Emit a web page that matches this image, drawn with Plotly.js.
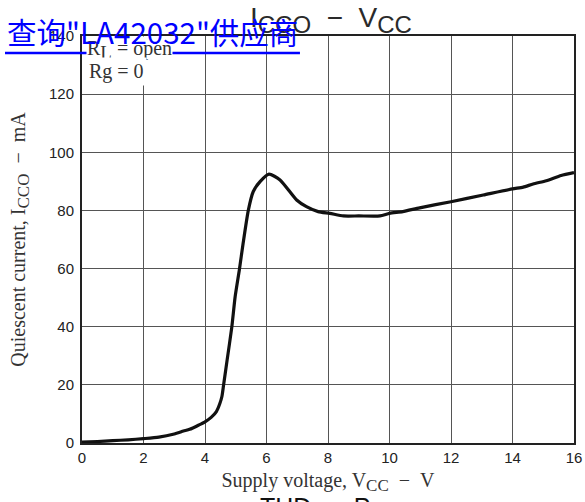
<!DOCTYPE html>
<html>
<head>
<meta charset="utf-8">
<script src="https://cdn.plot.ly/plotly-3.0.1.min.js"></script>
<style>html,body{margin:0;padding:0;background:#fff;}#chart{width:585px;height:502px;}</style>
</head>
<body>
<div id="chart"></div>
<script>
// Supply voltage V_CC (V)
const vcc = [0, 0.5, 1, 1.5, 2, 2.5, 3, 3.3, 3.5, 3.8, 4, 4.2, 4.37, 4.48, 4.55, 4.6, 4.72, 4.87, 4.98, 5.12, 5.24, 5.41, 5.57, 5.79, 6.08, 6.44, 6.98, 7.3, 7.68, 8.06, 8.5, 9.0, 9.69, 10, 10.43, 10.98, 12, 13.05, 14, 14.35, 14.67, 15.1, 15.58, 16];
// Quiescent current I_CCO (mA)
const icco = [0.3, 0.5, 0.8, 1.1, 1.5, 2.0, 3.1, 4.1, 4.7, 6.2, 7.3, 8.8, 10.8, 13.5, 16, 19.6, 28.6, 39.7, 50.3, 59.8, 68.7, 80.1, 86.5, 89.9, 92.5, 90.5, 83.6, 81.3, 79.6, 79.0, 78.1, 78.1, 78.1, 79.0, 79.6, 80.9, 83.0, 85.3, 87.4, 88.0, 89.1, 90.2, 92.0, 93.0];
const xTicks = [0, 2, 4, 6, 8, 10, 12, 14, 16];
const yTicks = [0, 20, 40, 60, 80, 100, 120, 140];

const serif = '"Liberation Serif", "Times New Roman", serif';
const sans = '"Liberation Sans", Arial, sans-serif';
const sp = '\u00a0\u00a0';

const trace = {
  x: vcc, y: icco, type: 'scatter', mode: 'lines',
  line: {color: '#111', width: 3.2, shape: 'spline', smoothing: 0.6},
  hoverinfo: 'skip'
};

const layout = {
  width: 585, height: 502,
  margin: {l: 82, r: 11, t: 36, b: 59},
  paper_bgcolor: '#fff', plot_bgcolor: '#fff',
  showlegend: false,
  title: {
    text: 'I<sub><span style="font-size:24px">CCO</span></sub>' + sp + '−' + sp + 'V<sub><span style="font-size:24px">CC</span></sub>',
    font: {family: sans, size: 28, color: '#2a2a2a'},
    x: 0.506, xref: 'paper', xanchor: 'center',
    y: 0.965, yref: 'container', yanchor: 'middle'
  },
  xaxis: {
    range: [0, 16], tickvals: xTicks, ticktext: xTicks.map(String),
    showgrid: true, gridcolor: '#555', gridwidth: 1,
    showline: true, linecolor: '#222', linewidth: 2, mirror: true,
    ticks: '', zeroline: false,
    tickfont: {family: sans, size: 15, color: '#222'},
    title: {text: 'Supply voltage, V<sub><span style="font-size:17px">CC</span></sub>' + sp + '−' + sp + 'V', font: {family: serif, size: 20, color: '#333'}, standoff: 8}
  },
  yaxis: {
    range: [0, 140], tickvals: yTicks, ticktext: yTicks.map(String),
    showgrid: true, gridcolor: '#555', gridwidth: 1,
    showline: true, linecolor: '#222', linewidth: 2, mirror: true,
    ticks: '', zeroline: false, ticklabelstandoff: 3,
    tickfont: {family: sans, size: 15, color: '#222'},
    title: {text: 'Quiescent current, I<sub><span style="font-size:17px">CCO</span></sub>' + sp + '−' + sp + 'mA', font: {family: serif, size: 20, color: '#333'}, standoff: 18}
  },
  annotations: [
    {
      text: 'R<sub><span style="font-size:19px">L</span></sub> = open', xref: 'paper', yref: 'paper',
      x: 0, y: 0.9656, xanchor: 'left', yanchor: 'middle', xshift: 4,
      align: 'left', showarrow: false, bgcolor: '#fff', borderpad: 0,
      font: {family: serif, size: 20, color: '#333'}
    },
    {
      text: 'Rg = 0', xref: 'paper', yref: 'paper',
      x: 0, y: 0.914, xanchor: 'left', yanchor: 'middle', xshift: 4,
      align: 'left', showarrow: false, bgcolor: '#fff', borderpad: 2,
      font: {family: serif, size: 20, color: '#333'}
    },
    {
      text: 'THD' + sp + '−' + sp + 'P<sub>o</sub>', xref: 'paper', yref: 'paper',
      x: 0.3577, y: -0.118, xanchor: 'left', yanchor: 'top',
      showarrow: false, font: {family: sans, size: 25, color: '#111'}
    },
    {
      text: '查询"LA42032"供应商', xref: 'paper', yref: 'paper',
      x: -0.1565, y: 1.0123, xanchor: 'left', yanchor: 'middle',
      showarrow: false, font: {family: '"Noto Sans CJK SC", sans-serif', size: 29.5, color: '#0000ff'}
    }
  ],
  shapes: [
    {type: 'line', xref: 'paper', yref: 'paper', x0: -0.1565, x1: 0.443, y0: 0.958, y1: 0.958,
     line: {color: '#0000ff', width: 2.5}}
  ]
};

Plotly.newPlot('chart', [trace], layout, {staticPlot: true, displayModeBar: false});
</script>
</body>
</html>
